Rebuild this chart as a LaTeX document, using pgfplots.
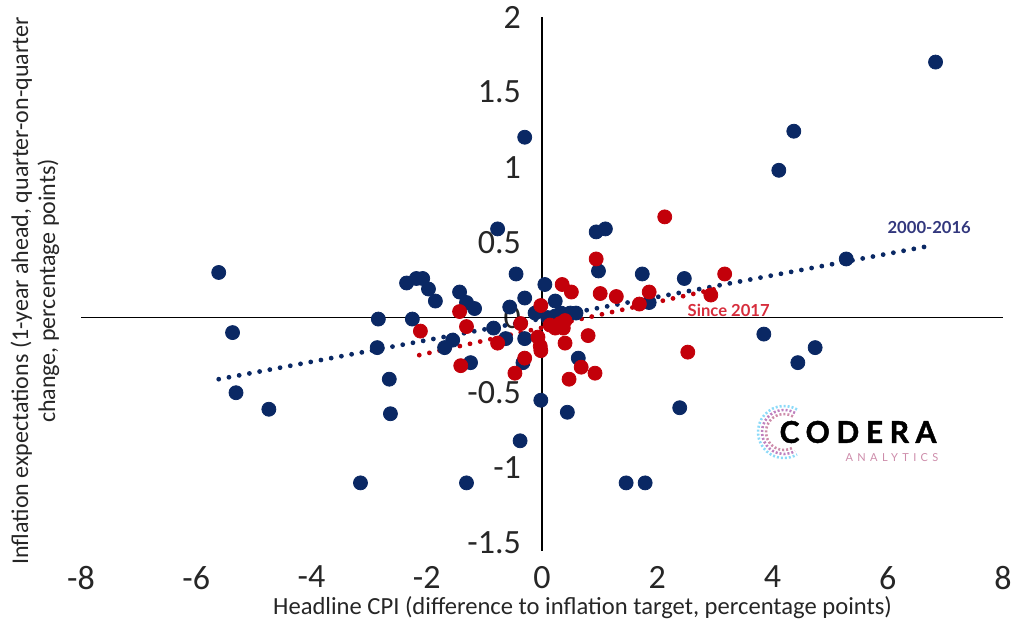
\documentclass[border=0pt]{standalone}
\usepackage{pgfplots}
\pgfplotsset{compat=1.18}
\usepackage{fontspec}
\setmainfont{Carlito}
\newfontfamily\lato{Lato}
\newfontfamily\logofont{Lato}[LetterSpace=22, FakeBold=1.5]
\newfontfamily\logosmall{Lato}[LetterSpace=40]

\definecolor{navy}{RGB}{10,40,100}
\definecolor{cred}{RGB}{195,0,10}
\definecolor{lblblue}{RGB}{50,55,125}
\definecolor{lblred}{RGB}{215,45,60}
\definecolor{logopink}{RGB}{205,140,170}

% blue: 2000-2016, red: since 2017
\pgfplotstableread{
x y
6.83 1.70
4.37 1.24
4.11 0.98
-0.30 1.20
-5.61 0.30
-5.37 -0.10
-5.31 -0.50
-4.74 -0.61
-2.84 -0.01
-2.86 -0.20
-2.65 -0.41
-2.63 -0.64
-3.15 -1.10
-1.31 -1.10
-0.38 -0.82
-0.02 -0.55
0.44 -0.63
1.46 -1.10
1.79 -1.10
2.39 -0.60
3.85 -0.11
4.44 -0.30
4.74 -0.20
5.28 0.39
2.47 0.26
1.74 0.29
0.98 0.31
0.94 0.57
1.10 0.59
-0.77 0.59
-0.45 0.29
-2.35 0.23
-2.18 0.26
-2.07 0.26
-1.97 0.19
-1.85 0.11
-2.25 -0.01
-1.43 0.17
-1.31 0.10
-1.17 0.06
-1.69 -0.20
-1.55 -0.15
-1.24 -0.30
-0.84 -0.07
-0.63 -0.14
-0.56 0.07
-0.30 0.13
0.05 0.22
0.23 0.11
-0.12 0.03
0.10 0.00
0.23 0.01
0.33 0.03
0.49 0.03
0.59 0.03
-0.30 -0.14
-0.33 -0.30
0.63 -0.27
1.86 0.10
}\bluedata

\pgfplotstableread{
x y
-1.43 0.04
-2.11 -0.09
-1.31 -0.06
-1.41 -0.32
-0.77 -0.17
-0.37 -0.04
-0.02 0.08
0.35 0.22
0.51 0.17
0.14 -0.05
0.23 -0.07
0.31 -0.04
0.37 -0.07
0.40 -0.02
-0.07 -0.13
-0.03 -0.19
-0.02 -0.22
-0.30 -0.27
-0.47 -0.37
0.40 -0.17
0.80 -0.12
1.01 0.16
0.68 -0.33
0.92 -0.37
0.47 -0.41
0.94 0.39
1.29 0.14
2.13 0.67
1.86 0.17
1.69 0.09
2.93 0.15
3.17 0.29
2.53 -0.23
}\reddata

\begin{document}
\begin{tikzpicture}
\useasboundingbox (0,0) rectangle (508pt,310.5pt);
\begin{axis}[
    at={(40.5pt,39pt)},
    anchor=south west,
    scale only axis,
    width=461pt,
    height=263pt,
    xmin=-8, xmax=8,
    ymin=-1.5, ymax=2,
    axis x line=bottom,
    axis y line=middle,
    x axis line style={draw=none},
    y axis line style={black, line width=0.6pt, -},
    hide obscured x ticks=false,
    hide obscured y ticks=false,
    xtick={-8,-6,...,8},
    xticklabels={-8,-6,-4,-2,0,2,4,6,8},
    ytick={-1.5,-1,-0.5,0,0.5,1,1.5,2},
    yticklabels={-1.5,-1,-0.5,0,0.5,1,1.5,2},
    major tick length=0pt,
    tick style={draw=none},
    ticklabel style={font=\fontsize{17}{18}\selectfont, text=black!85},
    xticklabel style={anchor=north, yshift=-8pt},
    yticklabel style={anchor=east, xshift=-7pt},
    xlabel={Headline CPI (difference to inflation target, percentage points)},
    xlabel style={at={(axis description cs:0.544,0)}, anchor=north, yshift=-23pt,
        font=\fontsize{12.3}{14}\selectfont, text=black!85},
    ylabel={},
    clip=false,
]
\draw[black, line width=0.6pt] (axis cs:-8,0) -- (axis cs:8,0);
\draw[black, line width=0.6pt] (axis cs:0,-1.5) -- (axis cs:0,-1.55);
\addplot[only marks, mark=*, mark size=3.5pt, navy, mark options={draw=navy, fill=navy}]
    table[x=x, y=y] {\bluedata};
\addplot[only marks, mark=*, mark size=3.5pt, cred, mark options={draw=cred, fill=cred}]
    table[x=x, y=y] {\reddata};
\addplot[navy, line width=2.4pt, line cap=round, dash pattern=on 0pt off 5.2pt]
    coordinates {(-5.61,-0.41) (6.77,0.48)};
\addplot[cred, line width=2.4pt, line cap=round, dash pattern=on 0pt off 5.2pt]
    coordinates {(-2.13,-0.25) (3.12,0.20)};
\node[font=\lato\bfseries\fontsize{8.3}{10}\selectfont, text=lblblue] at (axis cs:6.72,0.60) {2000-2016};
\node[font=\lato\bfseries\fontsize{8.3}{10}\selectfont, text=lblred] at (axis cs:3.24,0.05) {Since 2017};
\end{axis}
% y label
\node[rotate=90, align=center, font=\fontsize{12}{13.5}\selectfont, text=black!85]
    at (17.5pt,165pt) {Inflation expectations (1-year ahead, quarter-on-quarter\\change, percentage points)};
% logo
\foreach \r/\c in {9pt/logopink, 11pt/violet!50, 13pt/cyan!45} {
    \draw[\c, line width=1.3pt, dash pattern=on 1pt off 1pt] (392pt,94.5pt) ++(60:\r) arc[start angle=60, end angle=300, radius=\r];
}
\node[font=\logofont\bfseries\fontsize{15}{16}\selectfont] at (429pt,94.5pt) {CODERA};
\node[font=\logosmall\fontsize{5.5}{6}\selectfont, text=logopink] at (446pt,81.5pt) {ANALYTICS};
\end{tikzpicture}
\end{document}
